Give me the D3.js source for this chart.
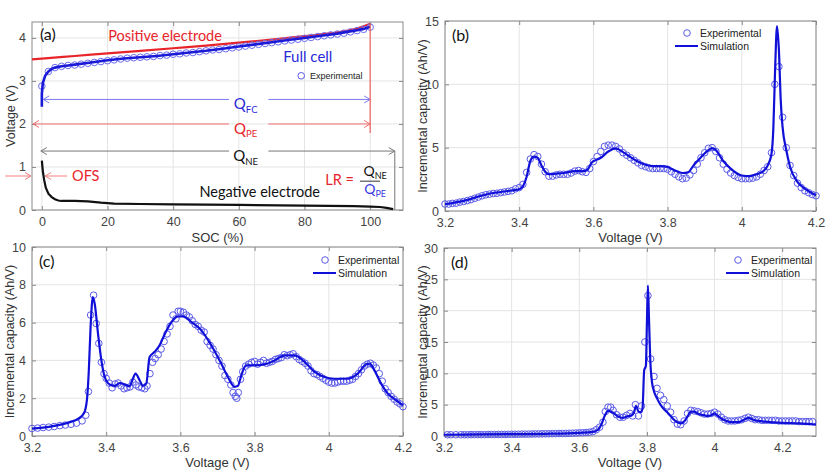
<!DOCTYPE html>
<html><head><meta charset="utf-8">
<script src="https://cdn.jsdelivr.net/npm/d3@7"></script>
<style>
body{margin:0;background:#fff;}
text{font-family:"Liberation Sans",Arial,sans-serif;}
.ann{font-family:Lato,"Open Sans",sans-serif;}
</style></head>
<body><svg id="c" width="832" height="470"></svg>
<script>
// ---------- DATA ----------
// Panel (a): SOC (%) vs voltage (V)
const socFC  = [0,0,0.3,1,2,3,4,6,8,10,15,20,25,30,35,40,45,50,55,60,65,70,75,80,85,90,93,96,98,100];
const voltFC = [2.4,2.7,2.95,3.12,3.22,3.28,3.31,3.34,3.36,3.38,3.43,3.48,3.52,3.55,3.58,3.62,3.66,3.7,3.75,3.8,3.85,3.9,3.95,4.0,4.05,4.1,4.14,4.18,4.21,4.26];
const socExpA  = [0,2,4,6,8,10,12,14,16,18,20,22,24,26,28,30,32,34,36,38,40,42,44,46,48,50,52,54,56,58,60,62,64,66,68,70,72,74,76,78,80,82,84,86,88,90,92,94,96,98,100];
const voltExpA = [2.88,3.22,3.31,3.34,3.36,3.37,3.39,3.41,3.43,3.45,3.47,3.49,3.51,3.53,3.54,3.55,3.56,3.57,3.59,3.6,3.62,3.63,3.65,3.66,3.68,3.7,3.72,3.73,3.75,3.77,3.79,3.81,3.83,3.85,3.87,3.89,3.91,3.93,3.95,3.97,3.99,4.01,4.03,4.05,4.07,4.09,4.11,4.14,4.17,4.2,4.25];
const socPE  = [-3,0,10,20,30,40,50,60,70,80,90,95,100];
const voltPE = [3.5,3.52,3.58,3.64,3.7,3.76,3.82,3.89,3.96,4.04,4.13,4.2,4.33];
const socNE  = [0,0.3,0.7,1.2,2,3,4,5,6,10,14,18,22,30,40,60,80,95,100,103,105,107];
const voltNE = [1.15,0.9,0.7,0.52,0.38,0.3,0.25,0.22,0.21,0.21,0.2,0.17,0.15,0.14,0.13,0.12,0.1,0.09,0.08,0.07,0.05,0.02];

// Panel (b): [voltage, incremental capacity]
const simB = [[3.2,0.53],[3.25,0.8],[3.3,1.22],[3.33,1.42],[3.35,1.5],[3.38,1.62],[3.4,1.72],[3.41,1.95],[3.42,2.7],[3.43,3.95],[3.44,4.3],[3.45,4.2],[3.46,3.6],[3.47,3.1],[3.48,2.9],[3.5,2.95],[3.52,3.0],[3.55,3.15],[3.575,3.15],[3.585,3.3],[3.595,3.8],[3.605,4.0],[3.62,4.2],[3.64,4.7],[3.66,4.95],[3.68,4.65],[3.7,4.25],[3.72,3.9],[3.74,3.65],[3.76,3.55],[3.78,3.55],[3.8,3.47],[3.82,3.2],[3.84,3.0],[3.855,3.05],[3.87,3.6],[3.89,4.25],[3.91,4.8],[3.92,4.97],[3.93,4.8],[3.95,3.95],[3.97,3.35],[4.0,2.8],[4.02,2.75],[4.04,2.9],[4.06,3.2],[4.07,3.6],[4.08,4.5],[4.085,6.5],[4.09,11.4],[4.095,14.6],[4.1,12.7],[4.105,8.7],[4.11,6.6],[4.12,4.8],[4.13,3.5],[4.15,2.3],[4.17,1.76],[4.2,1.24]];
const expB = [[3.2,0.55],[3.21,0.55],[3.22,0.6],[3.23,0.62],[3.24,0.7],[3.25,0.75],[3.26,0.82],[3.27,0.9],[3.28,1.0],[3.29,1.1],[3.3,1.2],[3.31,1.28],[3.32,1.33],[3.33,1.38],[3.34,1.4],[3.35,1.45],[3.36,1.5],[3.37,1.55],[3.38,1.6],[3.39,1.75],[3.4,1.85],[3.41,2.1],[3.42,3.05],[3.43,4.1],[3.44,4.45],[3.45,4.3],[3.46,3.7],[3.47,3.1],[3.48,2.75],[3.49,2.75],[3.5,2.85],[3.51,2.9],[3.52,2.9],[3.53,2.9],[3.54,3.0],[3.55,3.15],[3.56,3.2],[3.57,3.1],[3.58,3.05],[3.59,3.35],[3.6,3.9],[3.61,4.3],[3.62,4.7],[3.63,5.1],[3.64,5.2],[3.65,5.2],[3.66,5.1],[3.67,4.9],[3.68,4.6],[3.69,4.4],[3.7,4.2],[3.71,4.0],[3.72,3.8],[3.73,3.6],[3.74,3.5],[3.75,3.4],[3.76,3.35],[3.77,3.35],[3.78,3.35],[3.79,3.35],[3.8,3.3],[3.81,3.1],[3.82,2.9],[3.83,2.7],[3.84,2.55],[3.85,2.6],[3.86,2.85],[3.87,3.2],[3.88,3.7],[3.89,4.2],[3.9,4.6],[3.91,4.95],[3.92,5.0],[3.93,4.7],[3.94,4.2],[3.95,3.7],[3.96,3.3],[3.97,3.0],[3.98,2.8],[3.99,2.65],[4.0,2.55],[4.01,2.55],[4.02,2.55],[4.03,2.6],[4.04,2.7],[4.05,2.9],[4.06,3.2],[4.07,3.5],[4.08,4.6],[4.089,10.0],[4.1,11.4],[4.11,7.4],[4.12,5.0],[4.13,3.6],[4.14,2.8],[4.15,2.2],[4.16,1.85],[4.17,1.6],[4.18,1.45],[4.19,1.3],[4.2,1.2]];

// Panel (c)
const simC = [[3.2,0.39],[3.25,0.5],[3.3,0.72],[3.325,0.92],[3.34,1.2],[3.348,1.9],[3.353,3.4],[3.358,5.8],[3.364,7.35],[3.369,7.0],[3.378,5.4],[3.387,4.0],[3.396,3.12],[3.409,2.73],[3.423,2.65],[3.436,2.8],[3.45,2.73],[3.463,2.63],[3.472,3.03],[3.479,3.3],[3.49,2.95],[3.499,2.66],[3.508,2.77],[3.517,4.18],[3.53,4.44],[3.544,4.8],[3.558,5.4],[3.576,6.03],[3.594,6.33],[3.607,6.33],[3.63,6.03],[3.656,5.6],[3.683,4.8],[3.71,3.83],[3.728,3.12],[3.746,2.6],[3.755,2.65],[3.764,3.2],[3.777,3.74],[3.8,3.74],[3.827,3.79],[3.854,4.0],[3.881,4.27],[3.908,4.27],[3.935,3.92],[3.962,3.39],[3.988,3.12],[4.015,3.03],[4.051,3.03],[4.078,3.3],[4.101,3.79],[4.11,3.83],[4.123,3.47],[4.141,2.77],[4.159,2.24],[4.182,1.89],[4.2,1.62]];
const expC = [[3.2,0.4],[3.215,0.42],[3.23,0.45],[3.245,0.47],[3.26,0.5],[3.275,0.55],[3.29,0.58],[3.305,0.62],[3.32,0.68],[3.335,0.8],[3.345,1.1],[3.352,2.35],[3.358,6.4],[3.366,7.45],[3.373,5.95],[3.38,4.9],[3.387,3.9],[3.394,3.3],[3.4,3.05],[3.408,2.8],[3.416,2.55],[3.424,2.75],[3.432,2.8],[3.44,2.65],[3.448,2.5],[3.456,2.55],[3.464,2.6],[3.472,2.85],[3.48,2.7],[3.488,2.6],[3.496,2.55],[3.504,2.5],[3.51,2.65],[3.518,3.3],[3.525,3.9],[3.532,4.1],[3.54,4.3],[3.548,4.6],[3.556,5.0],[3.564,5.4],[3.572,5.8],[3.58,6.4],[3.588,6.2],[3.594,6.6],[3.6,6.6],[3.608,6.55],[3.616,6.4],[3.624,6.3],[3.632,6.1],[3.64,5.9],[3.648,5.8],[3.656,5.6],[3.664,5.5],[3.672,5.0],[3.68,4.8],[3.688,4.6],[3.696,4.3],[3.704,4.0],[3.712,3.7],[3.72,3.2],[3.728,3.0],[3.736,2.7],[3.742,2.3],[3.748,2.1],[3.752,2.0],[3.756,2.3],[3.762,3.0],[3.768,3.4],[3.776,3.7],[3.784,3.8],[3.792,3.9],[3.8,3.95],[3.808,3.8],[3.816,3.9],[3.824,4.0],[3.832,3.85],[3.84,3.9],[3.848,3.95],[3.856,4.05],[3.864,4.1],[3.872,4.15],[3.88,4.3],[3.888,4.25],[3.896,4.3],[3.904,4.35],[3.912,4.2],[3.92,4.05],[3.928,3.95],[3.936,3.85],[3.944,3.7],[3.952,3.45],[3.96,3.3],[3.968,3.25],[3.976,3.15],[3.984,3.05],[3.992,2.95],[4.0,2.85],[4.008,2.8],[4.016,2.8],[4.024,2.85],[4.032,2.9],[4.04,2.9],[4.048,2.9],[4.056,2.95],[4.064,3.0],[4.072,3.15],[4.08,3.3],[4.088,3.5],[4.096,3.7],[4.104,3.8],[4.112,3.85],[4.12,3.75],[4.128,3.6],[4.136,3.3],[4.144,2.9],[4.152,2.5],[4.16,2.3],[4.168,2.1],[4.176,1.95],[4.184,1.8],[4.192,1.7],[4.2,1.55]];

// Panel (d)
const simD = [[3.2,0.2],[3.3,0.25],[3.4,0.3],[3.5,0.35],[3.6,0.5],[3.64,0.65],[3.655,1.0],[3.665,1.8],[3.675,3.2],[3.685,4.0],[3.7,3.7],[3.71,3.3],[3.72,3.0],[3.73,2.9],[3.74,3.1],[3.755,3.3],[3.762,3.8],[3.768,4.8],[3.775,3.9],[3.782,3.8],[3.787,4.4],[3.792,10.5],[3.797,11.2],[3.8,18],[3.803,24],[3.806,19],[3.81,12],[3.815,8.6],[3.82,7.3],[3.83,6.0],[3.84,5.0],[3.85,4.3],[3.86,3.8],[3.87,3.2],[3.88,2.6],[3.89,2.2],[3.9,2.0],[3.91,2.3],[3.92,3.1],[3.93,3.9],[3.94,3.9],[3.95,3.6],[3.96,3.4],[3.97,3.3],[3.98,3.2],[3.99,3.3],[4.0,3.6],[4.01,3.2],[4.02,2.8],[4.03,2.5],[4.05,2.2],[4.07,2.2],[4.08,2.4],[4.1,2.9],[4.12,2.5],[4.15,2.3],[4.2,2.1],[4.25,2.0],[4.3,1.8]];
const expD = [[3.21,0.2],[3.22,0.2],[3.235,0.2],[3.25,0.2],[3.26,0.2],[3.27,0.2],[3.28,0.22],[3.29,0.22],[3.3,0.22],[3.31,0.22],[3.32,0.22],[3.33,0.24],[3.34,0.24],[3.35,0.24],[3.36,0.25],[3.37,0.25],[3.38,0.25],[3.39,0.26],[3.4,0.27],[3.41,0.28],[3.42,0.28],[3.43,0.3],[3.44,0.3],[3.45,0.3],[3.46,0.32],[3.47,0.33],[3.48,0.33],[3.49,0.35],[3.5,0.35],[3.51,0.36],[3.52,0.37],[3.53,0.38],[3.54,0.4],[3.55,0.4],[3.56,0.42],[3.57,0.43],[3.58,0.45],[3.59,0.47],[3.6,0.5],[3.61,0.52],[3.62,0.55],[3.63,0.6],[3.64,0.7],[3.65,1.0],[3.66,1.4],[3.67,2.2],[3.677,3.9],[3.685,4.6],[3.693,4.6],[3.7,4.1],[3.71,3.4],[3.72,3.0],[3.73,3.0],[3.74,3.3],[3.75,3.6],[3.758,3.2],[3.766,5.0],[3.775,3.2],[3.784,4.8],[3.794,15.0],[3.803,22.4],[3.811,12.3],[3.821,9.5],[3.83,7.6],[3.84,6.5],[3.85,5.8],[3.86,4.8],[3.87,3.8],[3.88,2.6],[3.89,1.9],[3.9,1.8],[3.91,2.4],[3.92,3.6],[3.93,4.1],[3.94,4.0],[3.95,3.9],[3.96,3.7],[3.97,3.5],[3.98,3.5],[3.99,3.6],[4.0,3.8],[4.01,3.5],[4.02,3.0],[4.03,2.6],[4.04,2.4],[4.05,2.4],[4.06,2.4],[4.07,2.5],[4.08,2.6],[4.09,2.8],[4.1,3.0],[4.11,2.8],[4.12,2.6],[4.13,2.6],[4.14,2.5],[4.15,2.5],[4.16,2.5],[4.17,2.5],[4.18,2.5],[4.19,2.4],[4.2,2.4],[4.21,2.4],[4.22,2.4],[4.23,2.4],[4.24,2.4],[4.25,2.3],[4.26,2.3],[4.27,2.3],[4.28,2.3],[4.29,2.3]];

// Ticks
const ticksA_x = [0,20,40,60,80,100];
const ticksA_y = [0,1,2,3,4];
const ticksV42 = [3.2,3.4,3.6,3.8,4.0,4.2];
const ticksB_y = [0,5,10,15];
const ticksC_y = [0,2,4,6,8,10];
const ticksD_y = [0,5,10,15,20,25,30];

// ---------- DRAW ----------
const svg = d3.select("#c");
const LINE = "#1010d8", CIRC = "#5a5ae8";
const fmt = d => String(+d.toFixed(1));

function panel(box, xd, yd, xt, yt) {
  const x = d3.scaleLinear().domain(xd).range([box.x0, box.x1]);
  const y = d3.scaleLinear().domain(yd).range([box.y1, box.y0]);
  const g = svg.append("g");
  g.append("rect").attr("x",box.x0).attr("y",box.y0).attr("width",box.x1-box.x0).attr("height",box.y1-box.y0).attr("fill","#fff");
  g.selectAll(null).data(xt).enter().append("line").attr("x1",d=>x(d)).attr("x2",d=>x(d)).attr("y1",box.y0).attr("y2",box.y1).attr("stroke","#e4e4e4");
  g.selectAll(null).data(yt).enter().append("line").attr("y1",d=>y(d)).attr("y2",d=>y(d)).attr("x1",box.x0).attr("x2",box.x1).attr("stroke","#e4e4e4");
  const ax = g.append("g").attr("transform",`translate(0,${box.y1})`).call(d3.axisBottom(x).tickValues(xt).tickFormat(fmt).tickSizeInner(-4).tickSizeOuter(0).tickPadding(7));
  const ay = g.append("g").attr("transform",`translate(${box.x0},0)`).call(d3.axisLeft(y).tickValues(yt).tickFormat(fmt).tickSizeInner(-4).tickSizeOuter(0).tickPadding(6));
  const axt = g.append("g").attr("transform",`translate(0,${box.y0})`).call(d3.axisTop(x).tickValues(xt).tickFormat("").tickSizeInner(-4).tickSizeOuter(0));
  const ayr = g.append("g").attr("transform",`translate(${box.x1},0)`).call(d3.axisRight(y).tickValues(yt).tickFormat("").tickSizeInner(-4).tickSizeOuter(0));
  [ax,ay,axt,ayr].forEach(a=>{a.select(".domain").remove(); a.selectAll("line").attr("stroke","#8a8a8a"); a.selectAll("text").attr("fill","#444").attr("font-size",12.5);});
  g.append("rect").attr("x",box.x0).attr("y",box.y0).attr("width",box.x1-box.x0).attr("height",box.y1-box.y0).attr("fill","none").attr("stroke","#8a8a8a").attr("stroke-width",1);
  const inner = svg.append("g");
  return {x,y,g,inner,box};
}

function xlabel(p, t, yy){ svg.append("text").attr("x",(p.box.x0+p.box.x1)/2).attr("y",yy).attr("text-anchor","middle").attr("font-size",13).attr("fill","#333").text(t); }
function ylabel(p, t, xx){ const cy=(p.box.y0+p.box.y1)/2; svg.append("text").attr("transform",`translate(${xx},${cy}) rotate(-90)`).attr("text-anchor","middle").attr("font-size",12.5).attr("fill","#333").text(t); }
function plabel(p, t){ svg.append("text").attr("class","ann").attr("x",p.box.x0+7).attr("y",p.box.y0+20).attr("font-size",16).attr("fill","#111").text(t); }

function icPanel(p, sim, exp, legX, legY){
  p.inner.selectAll(null).data(exp).enter().append("circle")
    .attr("cx",d=>p.x(d[0])).attr("cy",d=>p.y(d[1])).attr("r",3.3)
    .attr("fill","none").attr("stroke",CIRC).attr("stroke-width",1);
  p.inner.append("path").datum(sim).attr("fill","none").attr("stroke",LINE).attr("stroke-width",2.2)
    .attr("stroke-linejoin","round")
    .attr("d",d3.line().x(d=>p.x(d[0])).y(d=>p.y(d[1])).curve(d3.curveMonotoneX));
  svg.append("circle").attr("cx",legX).attr("cy",legY).attr("r",3.3).attr("fill","none").attr("stroke",CIRC);
  svg.append("text").attr("x",legX+13).attr("y",legY+4).attr("font-size",10.5).attr("fill","#222").text("Experimental");
  svg.append("line").attr("x1",legX-12).attr("x2",legX+11).attr("y1",legY+13).attr("y2",legY+13).attr("stroke",LINE).attr("stroke-width",2);
  svg.append("text").attr("x",legX+13).attr("y",legY+17).attr("font-size",10.5).attr("fill","#222").text("Simulation");
}

// ---- Panel (a)
const A = panel({x0:32,x1:403,y0:22,y1:210}, [-3,110], [0,4.37], ticksA_x, ticksA_y);
const lineA = d3.line().x(d=>A.x(d[0])).y(d=>A.y(d[1])).curve(d3.curveMonotoneX);
A.inner.append("path").datum(d3.zip(socPE,voltPE)).attr("fill","none").attr("stroke","#e8242b").attr("stroke-width",2.2).attr("d",lineA);
A.inner.append("path").datum(d3.zip(socNE,voltNE)).attr("fill","none").attr("stroke","#111").attr("stroke-width",2.2).attr("d",d3.line().x(d=>A.x(d[0])).y(d=>A.y(d[1])).curve(d3.curveLinear));
A.inner.selectAll(null).data(d3.zip(socExpA,voltExpA)).enter().append("circle")
  .attr("cx",d=>A.x(d[0])).attr("cy",d=>A.y(d[1])).attr("r",3.3).attr("fill","none").attr("stroke","#6b6bf0").attr("stroke-width",1);
A.inner.append("path").datum(d3.zip(socFC,voltFC)).attr("fill","none").attr("stroke","#1a1ad8").attr("stroke-width",2.6).attr("d",d3.line().x(d=>A.x(d[0])).y(d=>A.y(d[1])).curve(d3.curveLinear));

function head(x,y,dir,col){
  svg.append("path").attr("d",`M${x-dir*6},${y-3.5} L${x},${y} L${x-dir*6},${y+3.5}`).attr("fill","none").attr("stroke",col).attr("stroke-width",1);
}
function qArrow(x0,x1,yv,gap0,gap1,col,sub,subCol){
  const y=A.y(yv);
  svg.append("line").attr("x1",A.x(x0)).attr("x2",A.x(gap0)).attr("y1",y).attr("y2",y).attr("stroke",col).attr("stroke-width",1);
  svg.append("line").attr("x1",A.x(gap1)).attr("x2",A.x(x1)).attr("y1",y).attr("y2",y).attr("stroke",col).attr("stroke-width",1);
  head(A.x(x0),y,-1,col); head(A.x(x1),y,1,col);
  const t=svg.append("text").attr("class","ann").attr("x",(A.x(gap0)+A.x(gap1))/2-3).attr("y",y+10).attr("text-anchor","middle").attr("font-size",15).attr("fill",subCol).text("Q");
  t.append("tspan").attr("font-size",9.5).attr("dy",3.5).text(sub);
}
qArrow(0.4,100,2.57,57,69,"#7a7af0","FC","#2a2ad8");
qArrow(-2.7,100,2.0,57,69,"#f07070","PE","#e8242b");
qArrow(-0.3,107.5,1.37,57,69,"#777","NE","#111");
svg.append("line").attr("x1",A.x(100)).attr("x2",A.x(100)).attr("y1",A.y(4.33)).attr("y2",A.y(1.79)).attr("stroke","#f06060").attr("stroke-width",1.2);
svg.append("line").attr("x1",A.x(107.5)).attr("x2",A.x(107.5)).attr("y1",A.y(1.37)).attr("y2",A.y(0)).attr("stroke","#777").attr("stroke-width",1);
svg.append("line").attr("x1",A.x(7.7)).attr("x2",A.x(1.0)).attr("y1",A.y(0.79)).attr("y2",A.y(0.79)).attr("stroke","#f08080");
head(A.x(1.0),A.y(0.79),-1,"#f08080");
svg.append("line").attr("x1",A.x(-11.2)).attr("x2",A.x(-3.3)).attr("y1",A.y(0.79)).attr("y2",A.y(0.79)).attr("stroke","#f08080");
head(A.x(-3.3),A.y(0.79),1,"#f08080");
const annA = [
  {t:"(a)", x:-0.6, y:3.95, c:"#111", s:16},
  {t:"Positive electrode", x:20.2, y:3.92, c:"#e8242b", s:14.5},
  {t:"Full cell", x:73.5, y:3.43, c:"#2a2ad8", s:15},
  {t:"OFS", x:9.2, y:0.67, c:"#e8242b", s:14.5},
  {t:"Negative electrode", x:48, y:0.31, c:"#111", s:14.5},
  {t:"LR =", x:86.3, y:0.58, c:"#e8242b", s:14.5}
];
annA.forEach(a=>svg.append("text").attr("class","ann").attr("x",A.x(a.x)).attr("y",A.y(a.y)).attr("font-size",a.s).attr("fill",a.c).text(a.t));
svg.append("line").attr("x1",A.x(96.9)).attr("x2",A.x(103)).attr("y1",A.y(0.67)).attr("y2",A.y(0.67)).attr("stroke","#333").attr("stroke-width",1);
const fn=svg.append("text").attr("class","ann").attr("x",A.x(101.5)).attr("y",A.y(0.67)-5).attr("text-anchor","middle").attr("font-size",14).attr("fill","#111").text("Q");
fn.append("tspan").attr("font-size",9).attr("dy",3).text("NE");
const fd=svg.append("text").attr("class","ann").attr("x",A.x(101.5)).attr("y",A.y(0.67)+13).attr("text-anchor","middle").attr("font-size",14).attr("fill","#3a3ae0").text("Q");
fd.append("tspan").attr("font-size",9).attr("dy",3).text("PE");
svg.append("circle").attr("cx",A.x(79)).attr("cy",A.y(3.12)).attr("r",3.3).attr("fill","none").attr("stroke","#5a5ae8");
svg.append("text").attr("x",A.x(81.7)).attr("y",A.y(3.12)+3.5).attr("font-size",9).attr("fill","#222").text("Experimental");
xlabel(A,"SOC (%)",242);
ylabel(A,"Voltage (V)",15);

// ---- Panel (b)
const B = panel({x0:445,x1:816,y0:21,y1:211}, [3.2,4.2], [0,15], ticksV42, ticksB_y);
icPanel(B, simB, expB, 687, 33);
plabel(B,"(b)");
xlabel(B,"Voltage (V)",242);
ylabel(B,"Incremental capacity (Ah/V)",427);

// ---- Panel (c)
const C = panel({x0:32,x1:403,y0:247,y1:436}, [3.2,4.2], [0,10], ticksV42, ticksC_y);
icPanel(C, simC, expC, 325, 260);
plabel(C,"(c)");
xlabel(C,"Voltage (V)",467);
ylabel(C,"Incremental capacity (Ah/V)",14);

// ---- Panel (d)
const D = panel({x0:444,x1:816,y0:248,y1:436}, [3.2,4.3], [0,30], [3.2,3.4,3.6,3.8,4.0,4.2], ticksD_y);
icPanel(D, simD, expD, 738, 260);
plabel(D,"(d)");
xlabel(D,"Voltage (V)",467);
ylabel(D,"Incremental capacity (Ah/V)",427);
</script></body></html>
